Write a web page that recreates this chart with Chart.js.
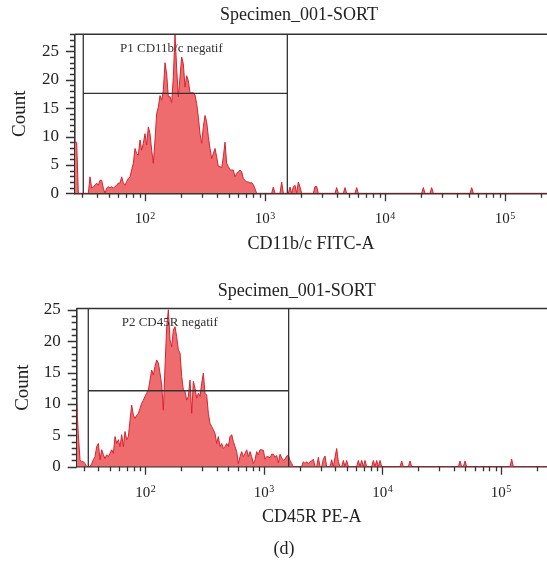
<!DOCTYPE html>
<html><head><meta charset="utf-8">
<script src="https://cdn.jsdelivr.net/npm/chart.js@4"></script>
<style>
html,body{margin:0;padding:0;background:#fff;width:547px;height:567px;overflow:hidden;position:relative}
canvas{position:absolute;left:0}
#c1{top:0}
#c2{top:270px}
#cap{position:absolute;left:0;width:568px;top:537px;line-height:22px;text-align:center;font-size:18px;font-family:"Liberation Serif","DejaVu Serif",serif;color:#222}
</style></head><body>
<canvas id="c1" width="547" height="265"></canvas>
<canvas id="c2" width="547" height="270"></canvas>
<div id="cap">(d)</div>
<script>
// ---------- data ----------
const plotTitle = 'Specimen_001-SORT';
const xTitles = ['CD11b/c FITC-A', 'CD45R PE-A'];
const gateLabels = ['P1 CD11b/c negatif', 'P2 CD45R negatif'];
const yTitle = 'Count';
const xMajor = [100, 1000, 10000, 100000];
const xTickBase = '10';
const xTickExp = ['2', '3', '4', '5'];
const yMajor = [0, 5, 10, 15, 20, 25];

// histogram counts, consecutive channels from the left edge of the axis
const fitcCounts = [9,9,0,0,0,0,0,0,0,2.9,0.9,1.2,1.4,1.8,1.4,2.3,2.3,0.9,0,0.9,
  1.2,0.9,1.2,0.9,1.2,1.4,1.8,1.8,2.9,1.8,1.4,2.1,2.6,2.9,4.1,5.3,7.9,7,6.7,9.4,
  7.6,8.8,10.5,8.5,11.7,10.5,7.6,5.3,9.4,14,15.2,17.2,16.4,18.1,23,21,17,17,16,20.5,
  28,22,17,20.5,24,22.8,18.7,20.7,19.8,17.7,17.7,17.7,17.3,15.8,13.4,10.5,8.8,11.7,13.7,12.6,
  10,7.9,6.1,7,7.9,6.4,4.7,4.7,4.5,6.4,9,5.3,4.7,4.1,4.1,4.1,2.9,3.5,3.8,4.1,
  3.8,2.6,2.3,2.0,2.0,1.8,1.9,1.5,0.8,0];
// isolated events at high intensity: [intensity, count]
const fitcEvents = [[1166,1.1],[1359,2],[1616,1.1],[1722,1.1],[1803,1.4],[1874,2],[1958,1.1],
  [2600,1.2],[2720,1.2],[4006,1],[4642,1],[5730,1],[21135,1],[24490,1],[52700,1]];

const peCounts = [10.1,5,1.1,0.8,0.8,0.5,0,0,0,0.5,1.1,1.6,3.2,3.7,1.1,2.7,1.9,1.3,1.9,1.6,
  2.1,2.7,2.1,4.8,3.7,4.3,3.2,5.1,3.2,5.6,4.3,4.8,7.4,9.8,8.2,7.7,8.2,8.5,9.3,10.1,
  10.6,11.2,11.7,12.2,13.8,15.4,14.6,16,17,16.5,14.9,13,9,16,22.3,25,20.2,19.1,21.8,22.3,
  20.7,18.6,18.1,14.4,12.2,12,10.6,11.2,13.8,8.5,13.6,12.5,10.9,11.7,11.2,13.3,14.9,11.7,11.4,8.5,
  6.9,6.4,5.9,5.3,3.7,4.8,3.2,3.7,2.9,3.2,3.7,3.2,4.8,5.1,4.0,3.2,2.4,0.5,1.6,2.4,
  1.6,2.1,2.7,1.6,2.4,1.6,0.5,1.1,2.4,1.9,2.7,2.7,2.6,1.2,1.6,1.6,1.4,2.0,2.0,1.5,
  1.8,0.6,2.0,1.4,1.0,1.2,1.7,1.8,1.0,0.5,0];
const peEvents = [[2147,0.8],[2220,0.5],[2292,0.8],[2366,0.5],[2445,0.8],[2527,0.9],[2608,1.2],
  [2871,1.5],[3166,1.2],[3271,1.7],[3726,1.1],[3972,1.5],[4108,2.9],[4240,0.8],[4670,1],[4987,1],
  [6250,1],[6672,1],[7113,1],[8360,1],[8930,1],[9530,1],[14520,0.9],[17060,0.9],[45100,0.9],
  [49700,0.9],[123000,1.2]];

// gates: [left, right, level]
const gate1 = [30.6, 1535, 17.6];
const gate2 = [32.9, 1615, 12.1];
const gateLabelAt1 = [61.9, 25.4];
const gateLabelAt2 = [63, 22.9];

// ---------- rendering ----------
const FONT = '"Liberation Serif", "DejaVu Serif", serif';
Chart.defaults.font.family = FONT;
Chart.defaults.color = '#222';

function buildBins(dense, events, log0, step, n) {
  const y = new Array(n).fill(0);
  dense.forEach((v, i) => { y[i] = v; });
  events.forEach(([x, v]) => {
    const i = Math.round((Math.log10(x) - log0) / step);
    if (i >= 0 && i < n) y[i] = Math.max(y[i], v);
  });
  return y.map((v, i) => ({x: Math.pow(10, log0 + i * step), y: v}));
}

function xTickValues(min, max) {
  const out = [];
  for (let d = 10; d <= 1e5; d *= 10)
    for (let m = 1; m <= 9; m++) { const v = m * d; if (v >= min && v <= max) out.push(v); }
  return out;
}

const decor = {
  id: 'decor',
  afterDatasetsDraw(chart, args, o) {
    const {ctx, chartArea: a, scales: {x, y}} = chart;
    ctx.save();
    ctx.strokeStyle = '#333';
    ctx.lineWidth = 1.5;
    ctx.beginPath();
    ctx.moveTo(a.left, a.top); ctx.lineTo(a.right, a.top);
    ctx.stroke();
    const gx1 = x.getPixelForValue(o.gate[0]);
    const gx2 = x.getPixelForValue(o.gate[1]);
    const gy = y.getPixelForValue(o.gate[2]);
    ctx.lineWidth = 1.3;
    ctx.beginPath();
    ctx.moveTo(gx1, a.bottom); ctx.lineTo(gx1, a.top);
    ctx.moveTo(gx2, a.bottom); ctx.lineTo(gx2, a.top);
    ctx.moveTo(gx1, gy); ctx.lineTo(gx2, gy);
    ctx.stroke();
    ctx.fillStyle = '#333';
    ctx.font = '13px ' + FONT;
    ctx.textBaseline = 'middle';
    ctx.textAlign = 'left';
    ctx.fillText(o.label, x.getPixelForValue(o.labelAt[0]), y.getPixelForValue(o.labelAt[1]));
    ctx.fillStyle = '#222';
    ctx.font = '18px ' + FONT;
    ctx.textAlign = 'center';
    ctx.fillText(o.title, o.titleX, o.titleY);
    ctx.restore();
  },
  afterDraw(chart) {
    const {ctx, chartArea: a, scales: {x, y}} = chart;
    ctx.save();
    ctx.strokeStyle = '#333';
    ctx.lineWidth = 1.3;
    ctx.beginPath();
    x.ticks.forEach(t => {
      const px = Math.round(x.getPixelForValue(t.value)) + 0.5;
      const len = xMajor.includes(t.value) ? 8 : 4.5;
      ctx.moveTo(px, a.bottom); ctx.lineTo(px, a.bottom + len);
    });
    y.ticks.forEach(t => {
      const py = Math.round(y.getPixelForValue(t.value)) + 0.5;
      const len = yMajor.includes(t.value) ? 9 : 5;
      ctx.moveTo(a.left - len, py); ctx.lineTo(a.left, py);
    });
    ctx.stroke();
    // decade labels: 10 with raised exponent
    ctx.fillStyle = '#222';
    ctx.textBaseline = 'alphabetic';
    ctx.textAlign = 'left';
    xMajor.forEach((v, k) => {
      const px = x.getPixelForValue(v);
      ctx.font = '15px ' + FONT;
      const w1 = ctx.measureText(xTickBase).width;
      ctx.font = '10px ' + FONT;
      const w2 = ctx.measureText(xTickExp[k]).width;
      const x0 = px - (w1 + w2 + 0.5) / 2;
      ctx.font = '15px ' + FONT;
      ctx.fillText(xTickBase, x0, a.bottom + 30);
      ctx.font = '10px ' + FONT;
      ctx.fillText(xTickExp[k], x0 + w1 + 0.5, a.bottom + 25.5);
    });
    ctx.restore();
  }
};

function makeChart(id, cfg) {
  const n = 285;
  const pts = buildBins(cfg.counts, cfg.events, cfg.log0, cfg.step, n);
  const xmin = Math.pow(10, cfg.log0);
  const xmax = Math.pow(10, cfg.log0 + cfg.stepsToRight * cfg.step);
  new Chart(document.getElementById(id), {
    type: 'line',
    data: {datasets: [{
      data: pts,
      borderColor: 'rgb(214,36,46)',
      backgroundColor: 'rgb(238,108,110)',
      borderWidth: 1,
      pointRadius: 0,
      fill: 'origin',
      tension: 0
    }]},
    options: {
      responsive: false,
      animation: false,
      devicePixelRatio: 1,
      layout: {padding: {top: cfg.top, left: 0, right: 0, bottom: 0}},
      plugins: {
        legend: {display: false},
        tooltip: {enabled: false},
        decor: {gate: cfg.gate, label: cfg.label, labelAt: cfg.labelAt,
                title: plotTitle, titleX: cfg.titleX, titleY: cfg.titleY}
      },
      scales: {
        x: {
          type: 'logarithmic',
          min: xmin, max: xmax,
          grid: {display: false, drawTicks: false},
          border: {display: true, color: '#333', width: 1.6},
          afterBuildTicks: s => { s.ticks = xTickValues(xmin, xmax).map(v => ({value: v})); },
          afterFit: s => { s.height = cfg.xHeight; s.paddingLeft = 0; s.paddingRight = 0; },
          ticks: {
            autoSkip: false, maxRotation: 0, padding: 16,
            font: {size: 15, family: FONT}, color: '#222',
            callback: () => ''
          },
          title: {display: true, text: cfg.xTitle, font: {size: 18, family: FONT}, color: '#222',
                  padding: {top: 0, bottom: cfg.xTitlePad}}
        },
        y: {
          type: 'linear',
          min: 0, max: cfg.ymax,
          grid: {display: false, drawTicks: false},
          border: {display: true, color: '#333', width: 1.6},
          afterBuildTicks: s => {
            const t = [];
            for (let v = 0; v <= cfg.ymax; v++) t.push({value: v});
            s.ticks = t;
          },
          afterFit: s => { s.width = cfg.yWidth; s.paddingTop = 0; s.paddingBottom = 0; },
          ticks: {
            autoSkip: false, padding: 16,
            font: {size: 17, family: FONT}, color: '#222',
            callback: v => yMajor.includes(v) ? String(v) : ''
          },
          title: {display: true, text: yTitle, font: {size: 19, family: FONT}, color: '#222',
                  padding: {top: cfg.yTitlePad, bottom: 0}}
        }
      }
    },
    plugins: [decor]
  });
}

makeChart('c1', {
  counts: fitcCounts, events: fitcEvents,
  log0: 1.4167, step: 1 / 72, stepsToRight: 283.2,
  top: 34.3, xHeight: 71.7, yWidth: 75, ymax: 28,
  gate: gate1, label: gateLabels[0], labelAt: gateLabelAt1,
  xTitle: xTitles[0], xTitlePad: 10.2, yTitlePad: 8.6,
  titleX: 299, titleY: 15
});
makeChart('c2', {
  counts: peCounts, events: peEvents,
  log0: 1.4194, step: 1 / 71.1, stepsToRight: 282.2,
  top: 38.5, xHeight: 73.3, yWidth: 76.7, ymax: 25.2,
  gate: gate2, label: gateLabels[1], labelAt: gateLabelAt2,
  xTitle: xTitles[1], xTitlePad: 11.7, yTitlePad: 11.9,
  titleX: 296.7, titleY: 21
});
</script>
</body></html>
